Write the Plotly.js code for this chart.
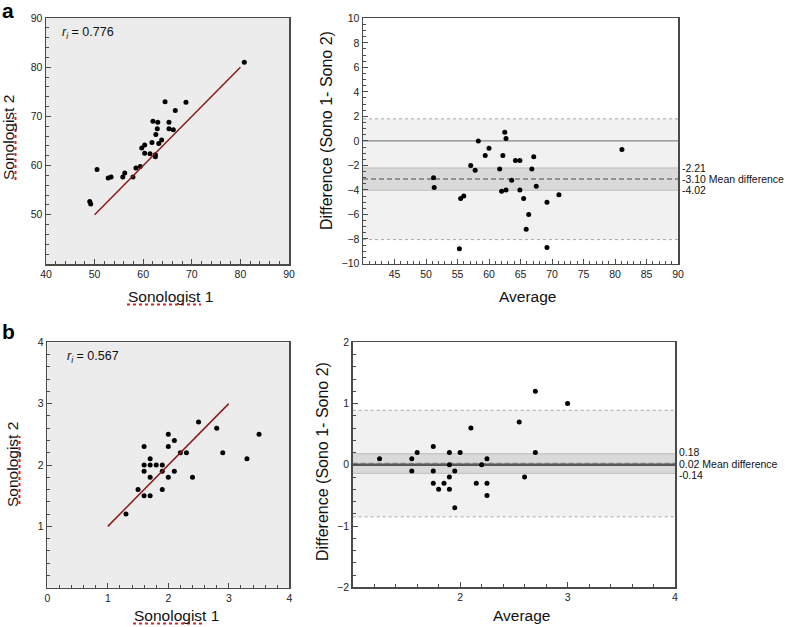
<!DOCTYPE html>
<html><head><meta charset="utf-8">
<script src="https://cdn.plot.ly/plotly-3.0.1.min.js"></script>
<style>body{margin:0;background:#fff}#chart{width:785px;height:627px}</style>
</head><body><div id="chart"></div>
<script>
// ---- Data ----
const sono1A = [49.0,49.2,50.5,52.8,53.4,55.8,56.2,57.9,58.5,59.4,59.7,60.3,60.3,61.4,61.8,62.0,62.5,62.5,62.6,62.9,63.0,63.2,63.8,64.5,65.3,65.3,66.2,66.6,68.8,80.8];
const sono2A = [52.7,52.2,59.2,57.5,57.7,57.7,58.5,57.7,59.5,59.8,63.6,64.2,62.5,62.4,64.7,69.0,62.2,61.8,66.3,67.5,68.8,64.5,65.2,73.0,67.5,68.8,67.3,71.2,72.9,81.0];
const fitLineA = {x:[50,80], y:[50,80]};
const avgA  = [51.2,51.3,55.5,56.0,55.3,57.1,57.8,58.3,59.4,60.0,61.7,62.0,62.2,62.5,62.7,62.7,63.6,64.2,64.9,64.9,65.5,66.3,65.9,66.8,67.1,67.5,69.2,69.2,71.1,81.1];
const diffA = [-3.0,-3.8,-4.7,-4.5,-8.8,-2.0,-2.4,0.0,-1.2,-0.6,-2.3,-4.1,-1.2,0.7,0.2,-4.0,-3.2,-1.6,-1.6,-4.0,-4.7,-6.0,-7.2,-2.3,-1.3,-3.7,-5.0,-8.7,-4.4,-0.7];
const statsA = {mean:-3.10, ciHi:-2.21, ciLo:-4.02, loaHi:1.8, loaLo:-8.05};
const rA = "0.776";

const sono1B = [1.3,1.5,1.6,1.7,1.6,1.6,1.6,1.7,1.7,1.7,1.8,1.9,1.9,1.9,2.0,2.0,2.0,2.1,2.1,2.2,2.3,2.4,2.5,2.8,2.9,3.3,3.5];
const sono2B = [1.2,1.6,1.5,1.5,1.9,2.0,2.3,1.8,2.0,2.1,2.0,2.0,1.9,1.6,1.8,2.3,2.5,1.9,2.4,2.2,2.2,1.8,2.7,2.6,2.2,2.1,2.5];
const fitLineB = {x:[1,3], y:[1,3]};
const avgB  = [1.25,1.55,1.55,1.6,1.75,1.75,1.75,1.8,1.85,1.9,1.9,1.9,1.9,1.95,1.95,2.0,2.1,2.15,2.2,2.25,2.25,2.25,2.55,2.6,2.7,2.7,3.0];
const diffB = [0.1,0.1,-0.1,0.2,0.3,-0.1,-0.3,-0.4,-0.3,0.2,0.0,-0.2,-0.4,-0.1,-0.7,0.2,0.6,-0.3,0.0,0.1,-0.3,-0.5,0.7,-0.2,1.2,0.2,1.0];
const statsB = {mean:0.02, ciHi:0.18, ciLo:-0.14, loaHi:0.89, loaLo:-0.85};
const rB = "0.567";

const ticksA_x = [40,50,60,70,80,90], ticksA_y = [50,60,70,80,90];
const ticksBA_A_x = [45,50,55,60,65,70,75,80,85,90], ticksBA_A_y = [-10,-8,-6,-4,-2,0,2,4,6,8,10];
const ticksB_x = [0,1,2,3,4], ticksB_y = [1,2,3,4];
const ticksBA_B_x = [2,3,4], ticksBA_B_y = [-2,-1,0,1,2];

// ---- Layout helpers ----
const W = 785, H = 627;
const px = v => v / W, py = v => 1 - v / H;
const FONT = "Liberation Sans, Arial, sans-serif";
const frame = '#4a4a4a';

function axis(domain, range, tickvals, minorDtick, extra) {
  return Object.assign({
    domain: domain, range: range, tickmode: 'array', tickvals: tickvals,
    ticks: 'inside', ticklen: 5, tickwidth: 1, tickcolor: frame,
    showline: true, mirror: true, linecolor: frame, linewidth: 1.5,
    showgrid: false, zeroline: false, fixedrange: true,
    tickfont: {family: FONT, size: 10.5, color: '#222'},
    minor: {ticks: 'inside', ticklen: 3, tickcolor: frame, dtick: minorDtick, tick0: range[0], showgrid: false}
  }, extra || {});
}

const markerStyle = {color: '#000', size: 5};
const traces = [
  {x: sono1A, y: sono2A, type: 'scatter', mode: 'markers', marker: markerStyle, xaxis: 'x', yaxis: 'y'},
  {x: fitLineA.x, y: fitLineA.y, type: 'scatter', mode: 'lines', line: {color: '#8b1a1a', width: 1.5}, xaxis: 'x', yaxis: 'y'},
  {x: avgA, y: diffA, type: 'scatter', mode: 'markers', marker: markerStyle, xaxis: 'x2', yaxis: 'y2'},
  {x: sono1B, y: sono2B, type: 'scatter', mode: 'markers', marker: markerStyle, xaxis: 'x3', yaxis: 'y3'},
  {x: fitLineB.x, y: fitLineB.y, type: 'scatter', mode: 'lines', line: {color: '#8b1a1a', width: 1.5}, xaxis: 'x3', yaxis: 'y3'},
  {x: avgB, y: diffB, type: 'scatter', mode: 'markers', marker: markerStyle, xaxis: 'x4', yaxis: 'y4'}
];

function baShapes(xa, ya, s, zeroStyle) {
  const xd = xa + ' domain';
  return [
    {type: 'rect', xref: xd, yref: ya, x0: 0, x1: 1, y0: s.loaLo, y1: s.loaHi, fillcolor: '#f1f1f1', line: {width: 0}, layer: 'below'},
    {type: 'rect', xref: xd, yref: ya, x0: 0, x1: 1, y0: s.ciLo, y1: s.ciHi, fillcolor: '#d9d9d9', line: {width: 0}, layer: 'below'},
    {type: 'line', xref: xd, yref: ya, x0: 0, x1: 1, y0: s.ciHi, y1: s.ciHi, line: {color: '#bdbdbd', width: 1}, layer: 'below'},
    {type: 'line', xref: xd, yref: ya, x0: 0, x1: 1, y0: s.ciLo, y1: s.ciLo, line: {color: '#bdbdbd', width: 1}, layer: 'below'},
    {type: 'line', xref: xd, yref: ya, x0: 0, x1: 1, y0: s.loaHi, y1: s.loaHi, line: {color: '#a8a8a8', width: 1, dash: 'dot'}, layer: 'below'},
    {type: 'line', xref: xd, yref: ya, x0: 0, x1: 1, y0: s.loaLo, y1: s.loaLo, line: {color: '#a8a8a8', width: 1, dash: 'dot'}, layer: 'below'},
    {type: 'line', xref: xd, yref: ya, x0: 0, x1: 1, y0: 0, y1: 0, line: zeroStyle, layer: 'below'},
    {type: 'line', xref: xd, yref: ya, x0: 0, x1: 1, y0: s.mean, y1: s.mean, line: {color: '#7a7a7a', width: 1.5, dash: '5px,3px'}, layer: 'below'}
  ];
}

function bgRect(xa, ya) {
  return {type: 'rect', xref: xa + ' domain', yref: ya + ' domain', x0: 0, x1: 1, y0: 0, y1: 1, fillcolor: '#ececec', line: {width: 0}, layer: 'below'};
}

function squiggle(x0, y0, x1, y1) {
  return {type: 'line', xref: 'paper', yref: 'paper', x0: px(x0), y0: py(y0), x1: px(x1), y1: py(y1), layer: 'above',
    line: {color: '#dd2222', width: 2, dash: 'dot'}};
}

const shapes = [bgRect('x', 'y'), bgRect('x3', 'y3')]
  .concat(baShapes('x2', 'y2', statsA, {color: '#6a6a6a', width: 1}))
  .concat(baShapes('x4', 'y4', statsB, {color: '#555', width: 2.5}))
  .concat([
    squiggle(127, 304.5, 201, 304.5), squiggle(15.5, 180, 15.5, 113),
    squiggle(133, 623.5, 205, 623.5), squiggle(19.5, 504, 19.5, 436)
  ]);

function ann(text, x, y, size, opts) {
  return Object.assign({text: text, xref: 'paper', yref: 'paper', x: px(x), y: py(y), showarrow: false,
    font: {family: FONT, size: size, color: '#111'}, xanchor: 'center', yanchor: 'middle'}, opts || {});
}
function rightLabel(text, ya, yv, xpx, shift) {
  return {text: text, xref: 'paper', yref: ya, x: px(xpx), y: yv, showarrow: false, xanchor: 'left', yanchor: 'middle',
    yshift: shift || 0, font: {family: FONT, size: 10.5, color: '#111'}};
}

const annotations = [
  ann('<b>a</b>', 8, 10, 21, {font: {family: FONT, size: 21, color: '#000'}}),
  ann('<b>b</b>', 8, 331, 21, {font: {family: FONT, size: 21, color: '#000'}}),
  ann('<i>r</i><sub><i>i</i></sub> = ' + rA, 60, 33, 12.5, {xanchor: 'left'}),
  ann('<i>r</i><sub><i>i</i></sub> = ' + rB, 65, 357, 12.5, {xanchor: 'left'}),
  ann('Sonologist 2', 8, 138, 15.5, {textangle: -90}),
  ann('Sonologist 1', 170, 296, 15.5),
  ann('Difference (Sono 1- Sono 2)', 327, 131, 16, {textangle: -90}),
  ann('Average', 527, 297, 15.5),
  ann('Sonologist 2', 12, 465, 15.5, {textangle: -90}),
  ann('Sonologist 1', 176, 615, 15.5),
  ann('Difference (Sono 1- Sono 2)', 322, 462, 16, {textangle: -90}),
  ann('Average', 521, 615, 15.5),
  rightLabel(statsA.ciHi.toFixed(2), 'y2', statsA.ciHi, 680),
  rightLabel(statsA.mean.toFixed(2) + ' Mean difference', 'y2', statsA.mean, 680),
  rightLabel(statsA.ciLo.toFixed(2), 'y2', statsA.ciLo, 680),
  rightLabel(statsB.ciHi.toFixed(2), 'y4', statsB.ciHi, 677, 1.5),
  rightLabel(statsB.mean.toFixed(2) + ' Mean difference', 'y4', statsB.mean, 677),
  rightLabel(statsB.ciLo.toFixed(2), 'y4', statsB.ciLo, 677, -1.5)
];

const layout = {
  width: W, height: H, margin: {l: 0, r: 0, t: 0, b: 0},
  paper_bgcolor: '#fff', plot_bgcolor: '#fff', showlegend: false,
  font: {family: FONT},
  xaxis:  axis([px(46), px(289)], [40, 90], ticksA_x, 2, {anchor: 'y'}),
  yaxis:  axis([py(264), py(18)], [40, 90], ticksA_y, 2, {anchor: 'x'}),
  xaxis2: axis([px(363), px(678)], [40, 90], ticksBA_A_x, 1, {anchor: 'y2'}),
  yaxis2: axis([py(263.5), py(18.3)], [-10, 10], ticksBA_A_y, 0.5, {anchor: 'x2'}),
  xaxis3: axis([px(47.3), px(289.3)], [0, 4], ticksB_x, 0.2, {anchor: 'y3'}),
  yaxis3: axis([py(587.7), py(342.3)], [0, 4], ticksB_y, 0.2, {anchor: 'x3'}),
  xaxis4: axis([px(352.7), px(675)], [1, 4], ticksBA_B_x, 0.2, {anchor: 'y4'}),
  yaxis4: axis([py(587.3), py(342.3)], [-2, 2], ticksBA_B_y, 0.2, {anchor: 'x4'}),
  shapes: shapes,
  annotations: annotations
};

Plotly.newPlot('chart', traces, layout, {staticPlot: true, displayModeBar: false});
</script>
</body></html>
